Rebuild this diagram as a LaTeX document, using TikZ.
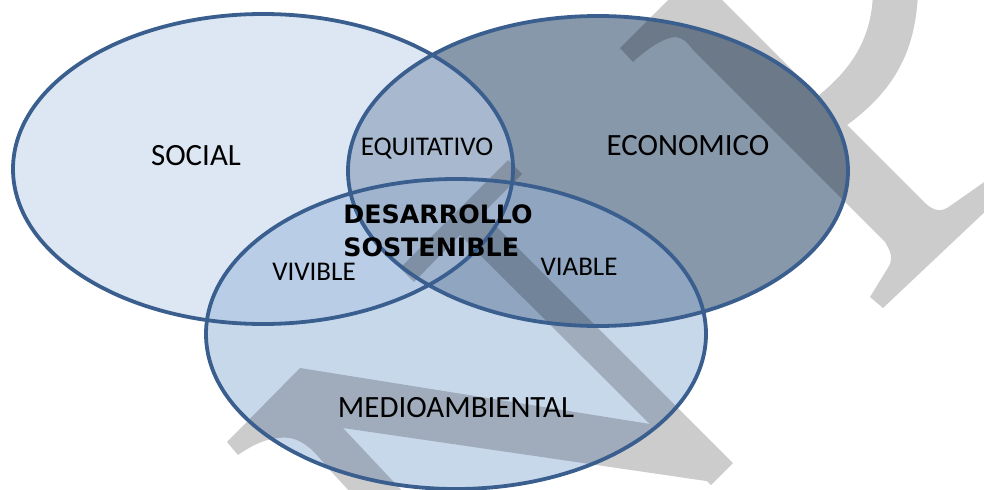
\documentclass[tikz,border=0pt]{standalone}
\usepackage{fontspec}
\setmainfont{Carlito}
\newfontfamily\heavyfont{DejaVu Sans}
\usepackage{tikz}
\newcommand{\ringrx}{250}
\newcommand{\ringry}{155}
\newcommand{\ringoval}{ellipse [x radius=\ringrx, y radius=\ringry]}
\definecolor{socialBlue}{RGB}{221,231,243}
\definecolor{ecoBlue}{RGB}{136,152,171}
\definecolor{medBlue}{RGB}{200,216,235}
\definecolor{equiBlue}{RGB}{168,185,207}
\definecolor{viviBlue}{RGB}{185,205,230}
\definecolor{viaBlue}{RGB}{143,165,192}
\definecolor{coreBlue}{RGB}{160,180,206}
\definecolor{ringLine}{RGB}{58,95,143}
\usetikzlibrary{positioning}
\tikzset{
  font=\fontsize{22}{26}\selectfont,
  ring/.style={draw=ringLine,line width=0.95mm},
  wmark/.style={fill=black,fill opacity=0.2},
  lbl/.style={inner sep=0,anchor=base},
  sublbl/.style={lbl,font=\fontsize{19.2}{23}\selectfont},
  corelbl/.style={inner sep=0,anchor=base west,font=\heavyfont\bfseries\fontsize{18}{21}\selectfont},
}
\begin{document}
\begin{tikzpicture}[x=0.25mm,y=-0.25mm]
  \useasboundingbox (0,0) rectangle (984,489);
  \clip (0,0) rectangle (984,489);
  \coordinate (soc) at (263,169);
  \coordinate (eco) at (598,171);
  \coordinate (med) at (456,334);
  \fill[socialBlue] (soc) \ringoval;
  \fill[ecoBlue] (eco) \ringoval;
  \fill[medBlue] (med) \ringoval;
  \begin{scope}
    \clip (soc) \ringoval;
    \fill[equiBlue] (eco) \ringoval;
    \fill[viviBlue] (med) \ringoval;
  \end{scope}
  \begin{scope}
    \clip (eco) \ringoval;
    \fill[viaBlue] (med) \ringoval;
  \end{scope}
  \begin{scope}
    \clip (soc) \ringoval;
    \clip (eco) \ringoval;
    \fill[coreBlue] (med) \ringoval;
  \end{scope}
  \fill[wmark]
    (620,48) -- (695,-27) -- (818,96) .. controls (850,70) and (872,40) .. (873,-8)
    -- (918,-8) .. controls (916,50) and (895,90) .. (847,125) -- (925,203)
    .. controls (935,212) and (942,212) .. (950,206) -- (990,178) -- (990,207)
    -- (883,308) -- (870,297) -- (889,266) .. controls (893,258) and (891,252) .. (885,242)
    -- (693,50) .. controls (687,42) and (683,38) .. (676,37)
    .. controls (665,37) and (648,48) .. (633,62) -- cycle
    (227,442) -- (300,368) -- (700,432) -- (713,482) -- (343,428) -- (406,495)
    -- (353,495) -- (327,467) .. controls (315,452) and (305,441) .. (290,438)
    .. controls (272,436) and (255,443) .. (238,455) -- cycle
    (508,160) -- (522,174) -- (483,213) -- (733,463) -- (711,485) -- (460,235)
    -- (414,282) -- (400,268) -- cycle;
  \draw[ring] (soc) \ringoval;
  \draw[ring] (eco) \ringoval;
  \draw[ring] (med) \ringoval;
  \node[lbl] (social) at (196,165) {SOCIAL};
  \node[lbl] (economico) at (688,155) {ECONOMICO};
  \node[lbl] (medio) at (456,417) {MEDIOAMBIENTAL};
  \node[sublbl] (equitativo) at (427,155) {EQUITATIVO};
  \node[sublbl] (vivible) at (314,280) {VIVIBLE};
  \node[sublbl] (viable) at (579,275) {VIABLE};
  \node[corelbl] (desarrollo) at (343,223) {DESARROLLO};
  \node[corelbl] (sostenible) at (343,256) {SOSTENIBLE};
\end{tikzpicture}
\end{document}
